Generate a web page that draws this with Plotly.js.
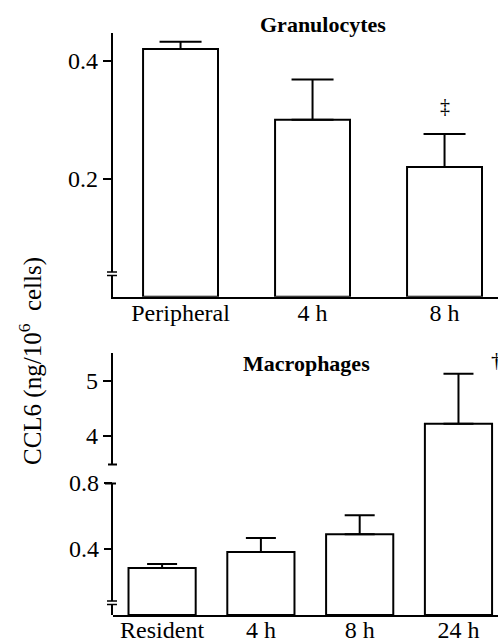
<!DOCTYPE html>
<html>
<head>
<meta charset="utf-8">
<script src="https://cdn.plot.ly/plotly-3.0.1.min.js"></script>
<style>html,body{margin:0;padding:0;background:#fff;}#chart{width:498px;height:641px;}</style>
</head>
<body>
<div id="chart"></div>
<script>
// Granulocytes panel
const granCats = ['Peripheral', '4 h', '8 h'];
const granY = [0.42, 0.30, 0.22];
const granErr = [0.012, 0.068, 0.056];
// Macrophages panel
const macCats = ['Resident', '4 h', '8 h', '24 h'];
const macY = [0.285, 0.382, 0.49, 4.22];
const macErr = [0.024, 0.085, 0.115, 0.91];
// tick values
const granTicks = [0.2, 0.4];
const macLowTicks = [0.4, 0.8];
const macHighTicks = [4, 5];

const W = 498, H = 641;
const px = v => v / W;
const py = v => 1 - v / H;
const FONT = 'Liberation Serif, Times New Roman, serif';
const zeros = a => a.map(() => 0);

const barStyle = {color: '#ffffff', line: {color: '#000', width: 2}};

const traces = [
  {type: 'bar', x: granCats, y: granY, xaxis: 'x', yaxis: 'y', width: 0.568,
   marker: barStyle,
   error_y: {type: 'data', symmetric: false, array: granErr, arrayminus: zeros(granErr),
             color: '#000', thickness: 2, width: 21},
   hoverinfo: 'skip', showlegend: false},
  {type: 'bar', x: macCats, y: macY, xaxis: 'x2', yaxis: 'y3', width: 0.68,
   marker: barStyle,
   error_y: {type: 'data', symmetric: false, array: macErr, arrayminus: zeros(macErr),
             color: '#000', thickness: 2, width: 15},
   hoverinfo: 'skip', showlegend: false},
  {type: 'bar', x: macCats, y: macY, xaxis: 'x2', yaxis: 'y4', width: 0.68,
   marker: barStyle,
   error_y: {type: 'data', symmetric: false, array: macErr, arrayminus: zeros(macErr),
             color: '#000', thickness: 2, width: 15},
   hoverinfo: 'skip', showlegend: false},
  {type: 'scatter', x: [], y: [], xaxis: 'x2', yaxis: 'y5', hoverinfo: 'skip', showlegend: false}
];

const tickFont = {family: FONT, size: 24, color: '#000'};
const baseY = {showgrid: false, zeroline: false, showline: true, linecolor: '#000', linewidth: 2,
               ticks: 'outside', ticklen: 8, tickwidth: 2, tickcolor: '#000',
               tickfont: tickFont, tickmode: 'array', fixedrange: true};
const baseX = {type: 'category', showgrid: false, zeroline: false, showline: true, linecolor: '#000',
               linewidth: 2, ticks: '', tickfont: tickFont, fixedrange: true};

const layout = {
  width: W, height: H,
  margin: {l: 0, r: 0, t: 0, b: 0},
  paper_bgcolor: '#fff', plot_bgcolor: 'rgba(0,0,0,0)',
  font: {family: FONT, color: '#000'},
  barmode: 'overlay',
  xaxis: Object.assign({}, baseX, {domain: [px(112.7), 1], range: [-0.514, 2.405], anchor: 'y',
                                   categoryorder: 'array', categoryarray: granCats, ticklabelstandoff: -7}),
  yaxis: Object.assign({}, baseY, {domain: [py(296.7), py(33)], range: [0, 0.447], anchor: 'x',
                                   tickvals: granTicks, ticktext: granTicks.map(String)}),
  xaxis2: Object.assign({}, baseX, {domain: [px(112.7), 1], range: [-0.5, 3.40], anchor: 'y3',
                                    categoryorder: 'array', categoryarray: macCats, ticklabelstandoff: -8}),
  yaxis3: Object.assign({}, baseY, {domain: [py(615), py(465)], range: [0, 150 / 165], anchor: 'x2',
                                    showline: false, tickvals: macLowTicks, ticktext: macLowTicks.map(String)}),
  yaxis4: Object.assign({}, baseY, {domain: [py(465), py(353)], range: [3.47, 5.51], anchor: 'x2',
                                    tickvals: macHighTicks, ticktext: macHighTicks.map(String)}),
  yaxis5: Object.assign({}, baseY, {domain: [py(615), py(483.5)], range: [0, 0.8], anchor: 'x2',
                                    ticks: '', showticklabels: false, tickvals: []}),
  annotations: [
    {text: '<b>Granulocytes</b>', xref: 'paper', yref: 'paper', x: px(323), y: py(24),
     xanchor: 'center', yanchor: 'middle', showarrow: false, font: {family: FONT, size: 22, color: '#000'}},
    {text: '<b>Macrophages</b>', xref: 'paper', yref: 'paper', x: px(306), y: py(363),
     xanchor: 'center', yanchor: 'middle', showarrow: false, font: {family: FONT, size: 22, color: '#000'}},
    {text: 'CCL6 (ng/10<sup>6</sup>&nbsp; cells)', xref: 'paper', yref: 'paper', x: px(30), y: py(361),
     xanchor: 'center', yanchor: 'middle', textangle: -90, showarrow: false,
     font: {family: FONT, size: 25, color: '#000'}},
    {text: '‡', xref: 'x', yref: 'y', x: granCats[2], y: granY[2] + granErr[2], yshift: 28,
     xanchor: 'center', yanchor: 'middle', showarrow: false, font: {family: FONT, size: 20, color: '#000'}},
    {text: '†', xref: 'x2', yref: 'y4', x: macCats[3], y: macY[3] + macErr[3], xshift: 38, yshift: 14,
     xanchor: 'center', yanchor: 'middle', showarrow: false, font: {family: FONT, size: 22, color: '#000'}}
  ],
  shapes: [
    // axis break marks, top panel
    {type: 'line', xref: 'paper', yref: 'paper', x0: px(112.7), x1: px(112.7), y0: py(272), y1: py(275.5), line: {color: '#fff', width: 4}},
    {type: 'line', xref: 'paper', yref: 'paper', x0: px(107), x1: px(117), y0: py(272), y1: py(272), line: {color: '#000', width: 1.5}},
    {type: 'line', xref: 'paper', yref: 'paper', x0: px(107), x1: px(117), y0: py(275.5), y1: py(275.5), line: {color: '#000', width: 1.5}},
    // axis break marks, bottom panel
    {type: 'line', xref: 'paper', yref: 'paper', x0: px(112.7), x1: px(112.7), y0: py(601), y1: py(604.5), line: {color: '#fff', width: 4}},
    {type: 'line', xref: 'paper', yref: 'paper', x0: px(107), x1: px(117), y0: py(601), y1: py(601), line: {color: '#000', width: 1.5}},
    {type: 'line', xref: 'paper', yref: 'paper', x0: px(107), x1: px(117), y0: py(604.5), y1: py(604.5), line: {color: '#000', width: 1.5}},
    // end caps of broken axis segments
    {type: 'line', xref: 'paper', yref: 'paper', x0: px(108), x1: px(117), y0: py(464.5), y1: py(464.5), line: {color: '#000', width: 2}},
    {type: 'line', xref: 'paper', yref: 'paper', x0: px(105), x1: px(116), y0: py(483.5), y1: py(483.5), line: {color: '#000', width: 2}}
  ]
};

Plotly.newPlot('chart', traces, layout, {displayModeBar: false, staticPlot: true});
</script>
</body>
</html>
